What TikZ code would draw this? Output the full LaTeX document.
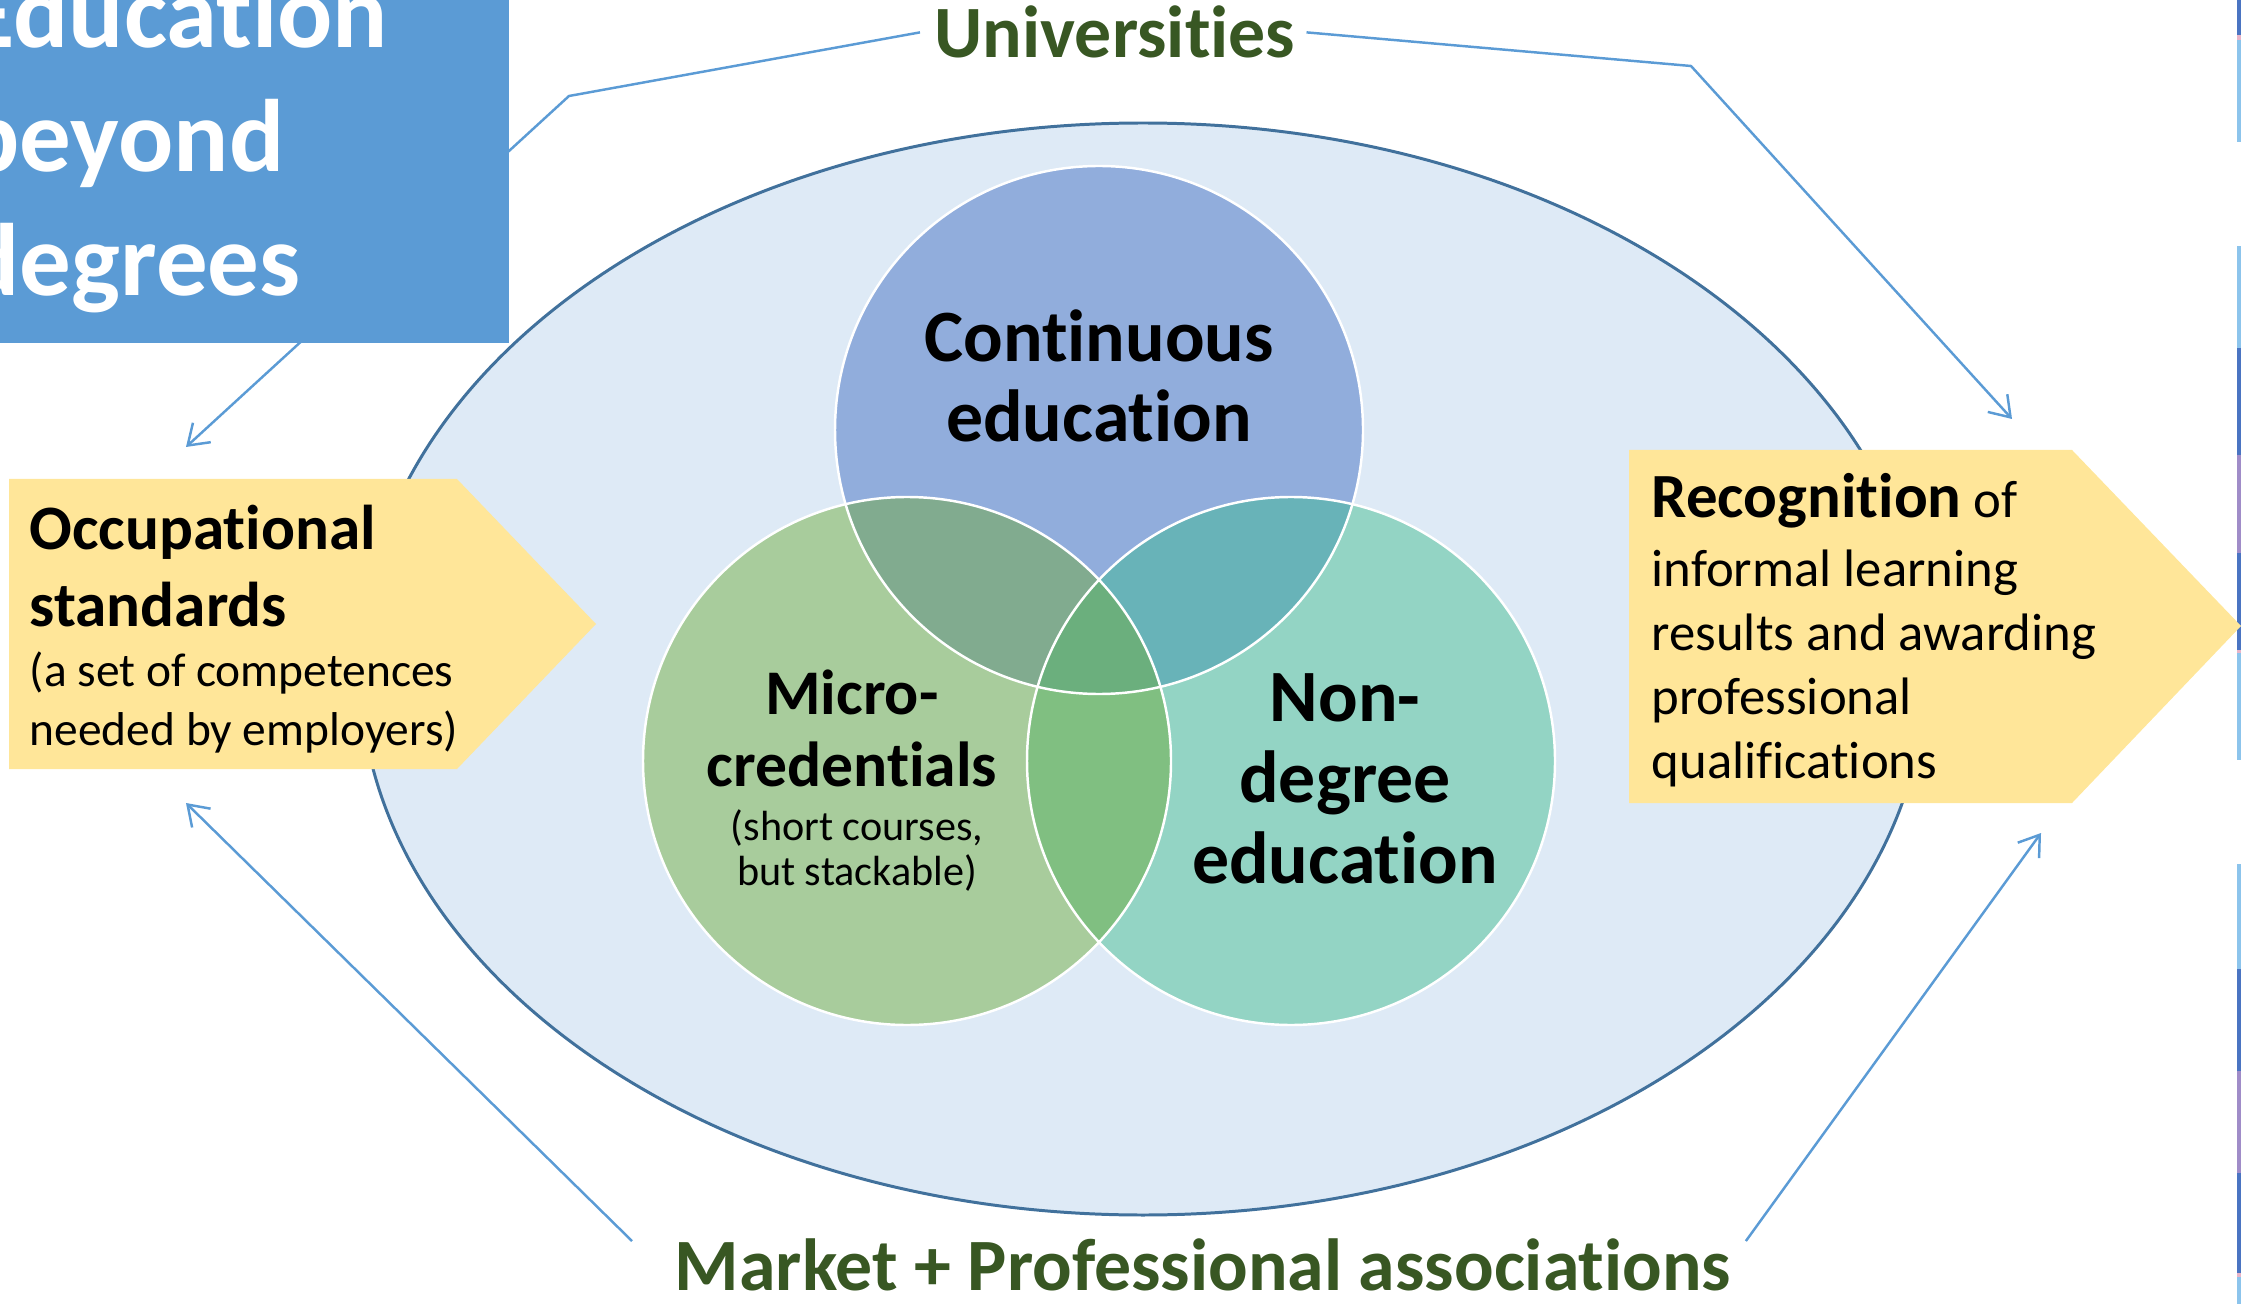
\documentclass[tikz,border=0pt]{standalone}
\usepackage{fontspec}
\setmainfont{Carlito}[Ligatures=NoCommon]
\usetikzlibrary{arrows.meta,calc}
\definecolor{titleblue}{HTML}{5B9BD5}
\definecolor{connblue}{HTML}{5B9BD5}
\definecolor{ellfill}{HTML}{DEEAF6}
\definecolor{ellline}{HTML}{41719C}
\definecolor{yel}{HTML}{FFE699}
\definecolor{txtgreen}{HTML}{385723}
\definecolor{cT}{HTML}{91ADDC}
\definecolor{cL}{HTML}{A8CC9C}
\definecolor{cR}{HTML}{93D4C4}
\definecolor{cTL}{HTML}{81AB8F}
\definecolor{cTR}{HTML}{68B3B8}
\definecolor{cLR}{HTML}{80BF81}
\definecolor{cAll}{HTML}{6BAF7D}
\definecolor{sdark}{HTML}{4A74C2}
\definecolor{slight}{HTML}{8CC4EC}
\definecolor{spurple}{HTML}{A08CC8}
\definecolor{spink}{HTML}{E8B4C8}
\begin{document}
\begin{tikzpicture}[x=0.1mm,y=-0.1mm,
  conn/.style={draw=connblue, line width=0.7pt, line join=round,
    -{Straight Barb[length=5.5pt,width=7.5pt,line width=0.7pt]}},
  venn/.style={draw=white, line width=0.7pt},
  lbl/.style={inner sep=0pt, text=black},
  headline/.style={inner sep=0pt, text=txtgreen, font=\fontsize{21}{25}\selectfont\bfseries}]
\useasboundingbox (0,0) rectangle (2241,1304);
\clip (0,0) rectangle (2241,1304);

% cut-off strips at the right edge
\foreach \a/\b/\c in {0/35/sdark,35/40/spink,40/142/slight,
  246/348/slight,348/455/sdark,455/553/spurple,553/650/sdark,650/653/spink,653/760/slight,
  864/969/slight,969/1071/sdark,1071/1173/spurple,1173/1273/sdark,1273/1277/spink,1277/1304/slight}
  {\fill[\c] (2237,\a) rectangle (2241,\b);}

% big ellipse
\filldraw[fill=ellfill, draw=ellline, line width=0.85pt] (1143,669) ellipse [x radius=783, y radius=546];

% Venn circles
\coordinate (T) at (1099,430);
\coordinate (L) at (907,761);
\coordinate (R) at (1291,761);
\fill[cT] (T) circle [radius=264];
\fill[cL] (L) circle [radius=264];
\fill[cR] (R) circle [radius=264];
\begin{scope}
  \clip (L) circle [radius=264];
  \fill[cLR] (R) circle [radius=264];
\end{scope}
\begin{scope}
  \clip (T) circle [radius=264];
  \fill[cTL] (L) circle [radius=264];
  \fill[cTR] (R) circle [radius=264];
  \clip (L) circle [radius=264];
  \fill[cAll] (R) circle [radius=264];
\end{scope}
\draw[venn] (T) circle [radius=264];
\draw[venn] (L) circle [radius=264];
\draw[venn] (R) circle [radius=264];

% yellow arrows
\fill[yel] (9,479) -- (457,479) -- (596,624) -- (457,769) -- (9,769) -- cycle;
\fill[yel] (1629,450) -- (2072,450) -- (2241,626) -- (2072,803) -- (1629,803) -- cycle;

% texts in the Venn diagram (base anchor = baseline of the last line)
\node[lbl, anchor=base, align=center, font=\fontsize{21}{23}\selectfont\bfseries] (cont) at (1099,442) {Continuous\\education};
\node[lbl, anchor=base, align=center, font=\fontsize{21}{23}\selectfont\bfseries] (nondeg) at (1345,883) {Non-\\degree\\education};
\node[lbl, anchor=base, align=center, font=\fontsize{18.1}{20.3}\selectfont\bfseries] (micro) at (852,786) {Micro-\\credentials};
\node[lbl, anchor=base, align=center, font=\fontsize{12}{12.6}\selectfont] (short) at (857,885) {(short courses,\\but stackable)};

% side boxes
\node[lbl, anchor=base west, align=left, font=\fontsize{18}{21.9}\selectfont\bfseries] (occ) at (29,626) {Occupational\\standards};
\node[lbl, anchor=base west, align=left, font=\fontsize{13.5}{16.7}\selectfont] (occsub) at (29,745) {(a set of competences\\needed by employers)};
\node[lbl, anchor=base west, align=left, font=\fontsize{15}{18.2}\selectfont] (recog) at (1651,778)
  {{\fontsize{17.9}{18.2}\selectfont\bfseries Recognition} of\\[1.4pt]informal learning\\results and awarding\\professional\\qualifications};

% headings
\node[headline, anchor=base] (uni) at (1115,58) {Universities};
\node[headline, anchor=base] (mkt) at (1203,1290) {Market + Professional associations};

% connectors
\coordinate (ub1) at (569,96);
\coordinate (ue1) at (186,447);
\coordinate (ub2) at (1691,66);
\coordinate (ue2) at (2012,419);
\coordinate (me1) at (186,803);
\coordinate (me2) at (2041,833);
\draw[conn] ([xshift=-4pt]uni.west) -- (ub1) -- (ue1);
\draw[conn] ([xshift=3pt]uni.east) -- (ub2) -- (ue2);
\draw[conn] ([xshift=-12pt,yshift=-1pt]mkt.north west) -- (me1);
\draw[conn] ([xshift=4pt,yshift=-1pt]mkt.north east) -- (me2);

% title box
\fill[titleblue] (0,0) rectangle (509,343);
\node[lbl, text=white, anchor=base west, align=left, font=\fontsize{29.3}{35.3}\selectfont\bfseries] (title) at (-36,296) {Education\\beyond\\degrees};
\end{tikzpicture}
\end{document}
